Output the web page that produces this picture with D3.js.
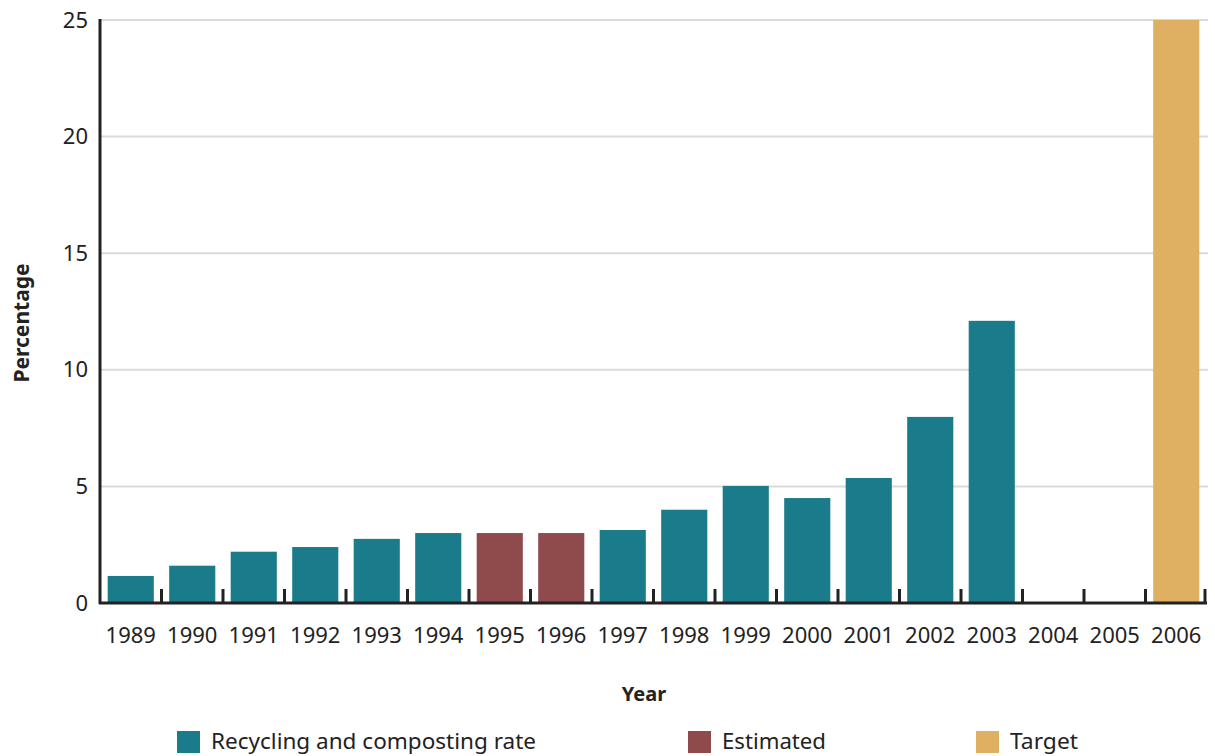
<!DOCTYPE html>
<html><head><meta charset="utf-8">
<script src="https://cdn.jsdelivr.net/npm/d3@7"></script>
<style>body{margin:0;background:#fff}svg{display:block}</style>
</head><body>
<svg id="c" width="1215" height="756"></svg>
<script>
const years = ["1989","1990","1991","1992","1993","1994","1995","1996","1997","1998","1999","2000","2001","2002","2003","2004","2005","2006"];
const values = [1.16,1.6,2.2,2.4,2.75,3.0,3.0,3.0,3.13,4.0,5.02,4.5,5.36,7.98,12.1,null,null,25];
const kinds = ["rate","rate","rate","rate","rate","rate","est","est","rate","rate","rate","rate","rate","rate","rate","rate","rate","target"];
const yTicks = [0,5,10,15,20,25];
const legendLabels = ["Recycling and composting rate","Estimated","Target"];
const legendKinds = ["rate","est","target"];

const colors = {rate:"#1a7b8a", est:"#8f4a4b", target:"#dfaf62"};
const font = "'Noto Sans', 'Open Sans', sans-serif";
const svg = d3.select("#c");
const L = 100, R = 1207, T = 20, B = 603;

const x = d3.scaleBand().domain(years).range([L, R]).paddingInner(0.25).paddingOuter(0.125);
const y = d3.scaleLinear().domain([0, 25]).range([B, T]);

// gridlines
svg.append("g").selectAll("line").data(yTicks.filter(d => d > 0)).join("line")
  .attr("x1", L).attr("x2", R + 1).attr("y1", d => y(d)).attr("y2", d => y(d))
  .attr("stroke", "#d8dbdb").attr("stroke-width", 2);

// bars
svg.append("g").selectAll("rect").data(years.map((yr, i) => ({yr, v: values[i], k: kinds[i]})).filter(d => d.v != null))
  .join("rect")
  .attr("x", d => x(d.yr)).attr("width", x.bandwidth())
  .attr("y", d => y(d.v)).attr("height", d => y(0) - y(d.v))
  .attr("fill", d => colors[d.k]);

// y axis
const ya = svg.append("g").attr("transform", `translate(${L},0)`)
  .call(d3.axisLeft(y).tickValues(yTicks).tickSize(0).tickPadding(12));
ya.select(".domain").attr("stroke", "#222").attr("stroke-width", 3).attr("d", `M0,${T - 1}V${B + 1}`);
ya.selectAll("text").attr("font-family", font).attr("font-size", 22).attr("fill", "#222");

// x axis
const xa = svg.append("g").attr("transform", `translate(0,${B})`)
  .call(d3.axisBottom(x).tickSize(0).tickPadding(24));
xa.select(".domain").attr("stroke", "#222").attr("stroke-width", 3).attr("d", `M${L - 1},0H${R}`);
xa.selectAll("text").attr("font-family", font).attr("font-size", 22).attr("fill", "#222");

// boundary ticks (upward)
const bounds = years.slice(1).map(yr => x(yr) - x.step() * x.paddingInner() / 2);
bounds.push(R - 2);
svg.append("g").selectAll("line").data(bounds).join("line")
  .attr("x1", d => d).attr("x2", d => d).attr("y1", B).attr("y2", B - 14)
  .attr("stroke", "#222").attr("stroke-width", 3);

// axis titles
svg.append("text").attr("transform", "translate(29,323) rotate(-90)")
  .attr("text-anchor", "middle").attr("font-family", font).attr("font-weight", "bold")
  .attr("font-size", 21).attr("fill", "#222").text("Percentage");
svg.append("text").attr("x", 644).attr("y", 701)
  .attr("text-anchor", "middle").attr("font-family", font).attr("font-weight", "bold")
  .attr("font-size", 20).attr("fill", "#222").text("Year");

// legend
const lx = [177, 688, 976];
const lw = [325, 104, 68];
const lg = svg.append("g");
legendLabels.forEach((lab, i) => {
  lg.append("rect").attr("x", lx[i]).attr("y", 731).attr("width", 23).attr("height", 22)
    .attr("fill", colors[legendKinds[i]]);
  lg.append("text").attr("x", lx[i] + 34).attr("y", 749)
    .attr("font-family", font).attr("font-size", 22).attr("fill", "#222")
    .attr("textLength", lw[i]).attr("lengthAdjust", "spacingAndGlyphs").text(lab);
});
</script>
</body></html>
